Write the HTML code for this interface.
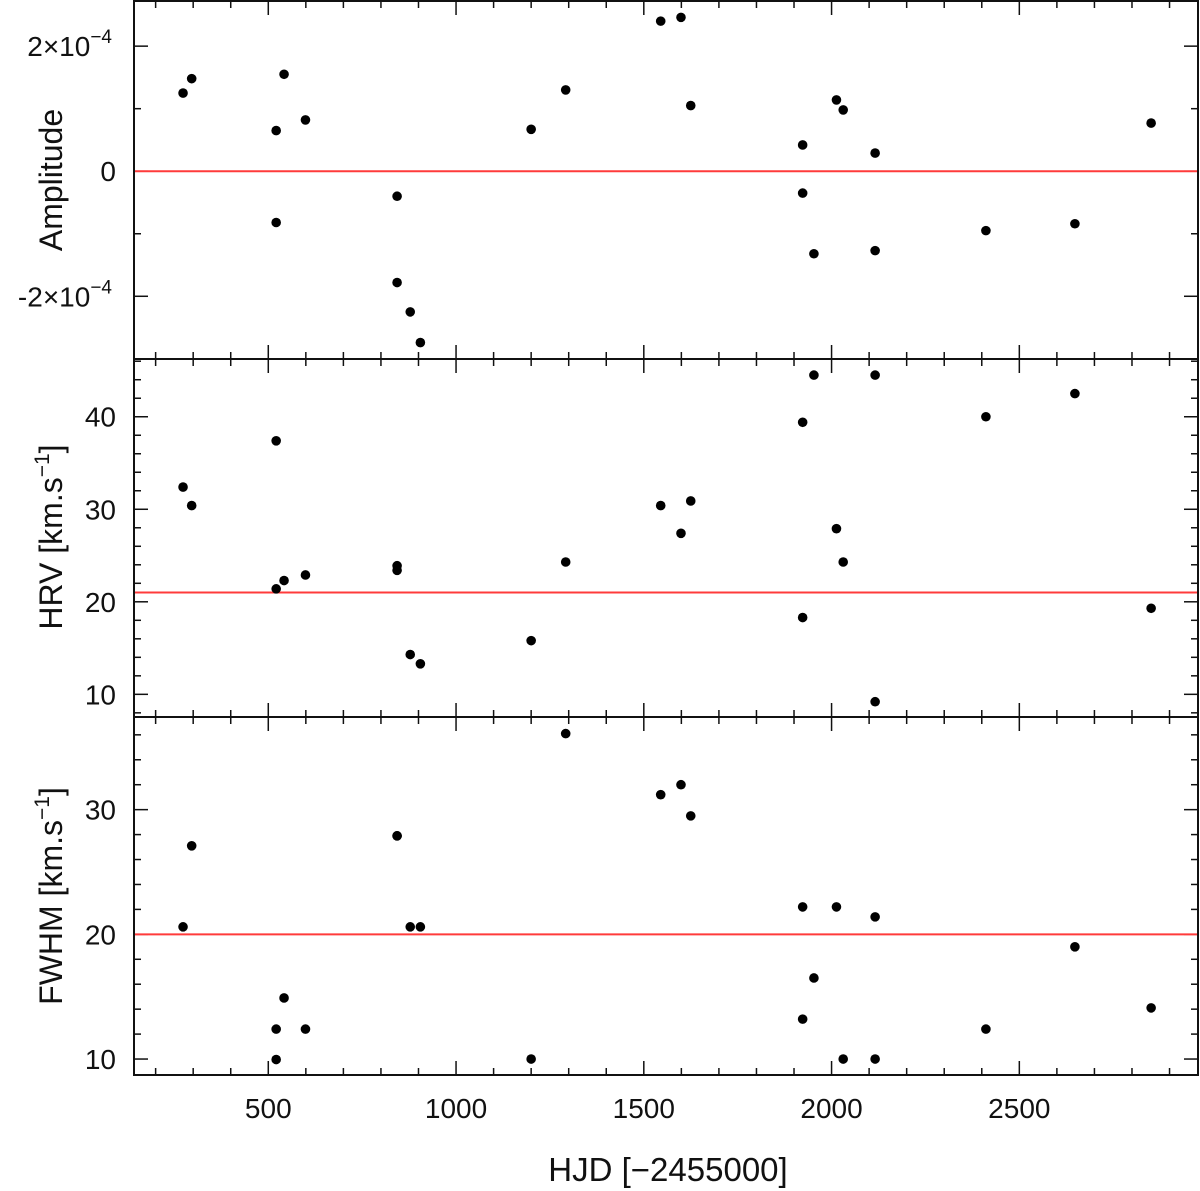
<!DOCTYPE html>
<html><head><meta charset="utf-8"><style>
html,body{margin:0;padding:0;background:#fff;}
svg{display:block;font-family:"Liberation Sans","DejaVu Sans",sans-serif;}
</style></head><body>
<svg id="chart" width="1200" height="1191" viewBox="0 0 1200 1191" xmlns="http://www.w3.org/2000/svg">
<text x="668" y="1181" font-size="33" text-anchor="middle" fill="#111">HJD [−2455000]</text>
<text transform="translate(62,180) rotate(-90)" font-size="32" text-anchor="middle" fill="#111">Amplitude</text>
<text transform="translate(62,537) rotate(-90)" font-size="32" text-anchor="middle" fill="#111">HRV [km.s<tspan dy="-13" font-size="21">−1</tspan><tspan dy="13">]</tspan></text>
<text transform="translate(62,896) rotate(-90)" font-size="32" text-anchor="middle" fill="#111">FWHM [km.s<tspan dy="-13" font-size="21">−1</tspan><tspan dy="13">]</tspan></text>
</svg>
<script>
const dates = [273,296,521,521,542,599,843,843,878,905,1200,1292,1545,1599,1625,1923,1923,1953,2013,2031,2116,2116,2411,2648,2851];
const amplitude = [1.25,1.48,0.65,-0.82,1.55,0.82,-0.40,-1.78,-2.25,-2.74,0.67,1.30,2.40,2.46,1.05,0.42,-0.35,-1.32,1.14,0.98,0.29,-1.27,-0.95,-0.84,0.77];
const hrv = [32.4,30.4,37.4,21.4,22.3,22.9,23.9,23.4,14.3,13.3,15.8,24.3,30.4,27.4,30.9,39.4,18.3,44.5,27.9,24.3,44.5,9.2,40.0,42.5,19.3];
const fwhm = [20.6,27.1,12.4,9.96,14.9,12.4,27.9,27.9,20.6,20.6,10.0,36.1,31.2,32.0,29.5,22.2,13.2,16.5,22.2,10.0,21.4,10.0,12.4,19.0,14.1];
const xTicks = [500,1000,1500,2000,2500];
const ampRef = 0, hrvRef = 21, fwhmRef = 20;
const ampTicks = [-2,0,2];
const hrvTicks = [10,20,30,40];
const fwhmTicks = [10,20,30];

const NS="http://www.w3.org/2000/svg";
const svg=document.getElementById('chart');
const L=134,R=1198;
const xMin=142.4,xMax=2975.8;
const X=v=>L+(v-xMin)/(xMax-xMin)*(R-L);
function el(tag,attrs,parent){const e=document.createElementNS(NS,tag);for(const k in attrs)e.setAttribute(k,attrs[k]);(parent||svg).appendChild(e);return e;}

const panels=[
 {name:'amplitude',top:1,bot:359,ymin:-3.003,ymax:2.722,vals:amplitude,ref:ampRef,ticks:ampTicks,minor:1,fmt:'sci'},
 {name:'hrv',top:359,bot:717,ymin:7.55,ymax:46.24,vals:hrv,ref:hrvRef,ticks:hrvTicks,minor:2,fmt:'num'},
 {name:'fwhm',top:717,bot:1075,ymin:8.72,ymax:37.43,vals:fwhm,ref:fwhmRef,ticks:fwhmTicks,minor:2,fmt:'num'}
];
panels.forEach(p=>{
 const Y=v=>p.bot-(v-p.ymin)/(p.ymax-p.ymin)*(p.bot-p.top);
 const g=el('g',{});
 
 
 for(let v=200;v<=2900;v+=100){
  const major=v%500===0, len=major?14:7, x=X(v);
  const t1=el('line',{x1:x,x2:x,y1:p.bot,y2:p.bot-len,stroke:'#111','stroke-width':1.5},g);
  
  
  const t2=el('line',{x1:x,x2:x,y1:p.top,y2:p.top+len,stroke:'#111','stroke-width':1.5},g);
  
  
 }
 const start=Math.ceil(p.ymin/p.minor)*p.minor;
 for(let v=start;v<=p.ymax+1e-9;v+=p.minor){
  const vv=Math.round(v*1000)/1000;
  const major=p.ticks.some(t=>Math.abs(t-vv)<1e-6)||(p.fmt==='num'&&Math.abs(vv%10)<1e-6);
  const len=major?14:7,y=Y(vv);
  const a=el('line',{x1:L,x2:L+len,y1:y,y2:y,stroke:'#111','stroke-width':1.5},g);
  
  
  const b=el('line',{x1:R,x2:R-len,y1:y,y2:y,stroke:'#111','stroke-width':1.5},g);
  
  
 }
 p.ticks.forEach(t=>{
  const tx=el('text',{x:116,y:Y(t)+10,'font-size':28,'text-anchor':'end',fill:'#111'},g);
  
  
  if(p.fmt==='sci'&&t!==0){
   tx.setAttribute('x',112);
   tx.appendChild(document.createTextNode((t<0?'-':'')+Math.abs(t)+'×10'));
   const s=document.createElementNS(NS,'tspan');s.setAttribute('dy','-13');s.setAttribute('font-size','19');s.textContent='−4';tx.appendChild(s);
  } else tx.textContent=String(t);
 });
 const rl=el('line',{x1:L,x2:R,y1:Y(p.ref),y2:Y(p.ref),stroke:'#ff3b3b','stroke-width':2},g);
 
 
 p.vals.forEach((v,i)=>{
  const c=el('circle',{cx:X(dates[i]),cy:Y(v),r:4.8,fill:'#000'},g);
  
  
 });
 const fr=el('rect',{x:L,y:p.top,width:R-L,height:p.bot-p.top,fill:'none',stroke:'#111','stroke-width':2},g);
 
 
});
xTicks.forEach(t=>{
 const tx=el('text',{x:X(t),y:1118,'font-size':28,'text-anchor':'middle',fill:'#111'});
 
 
 tx.textContent=String(t);
});
</script>
</body></html>
